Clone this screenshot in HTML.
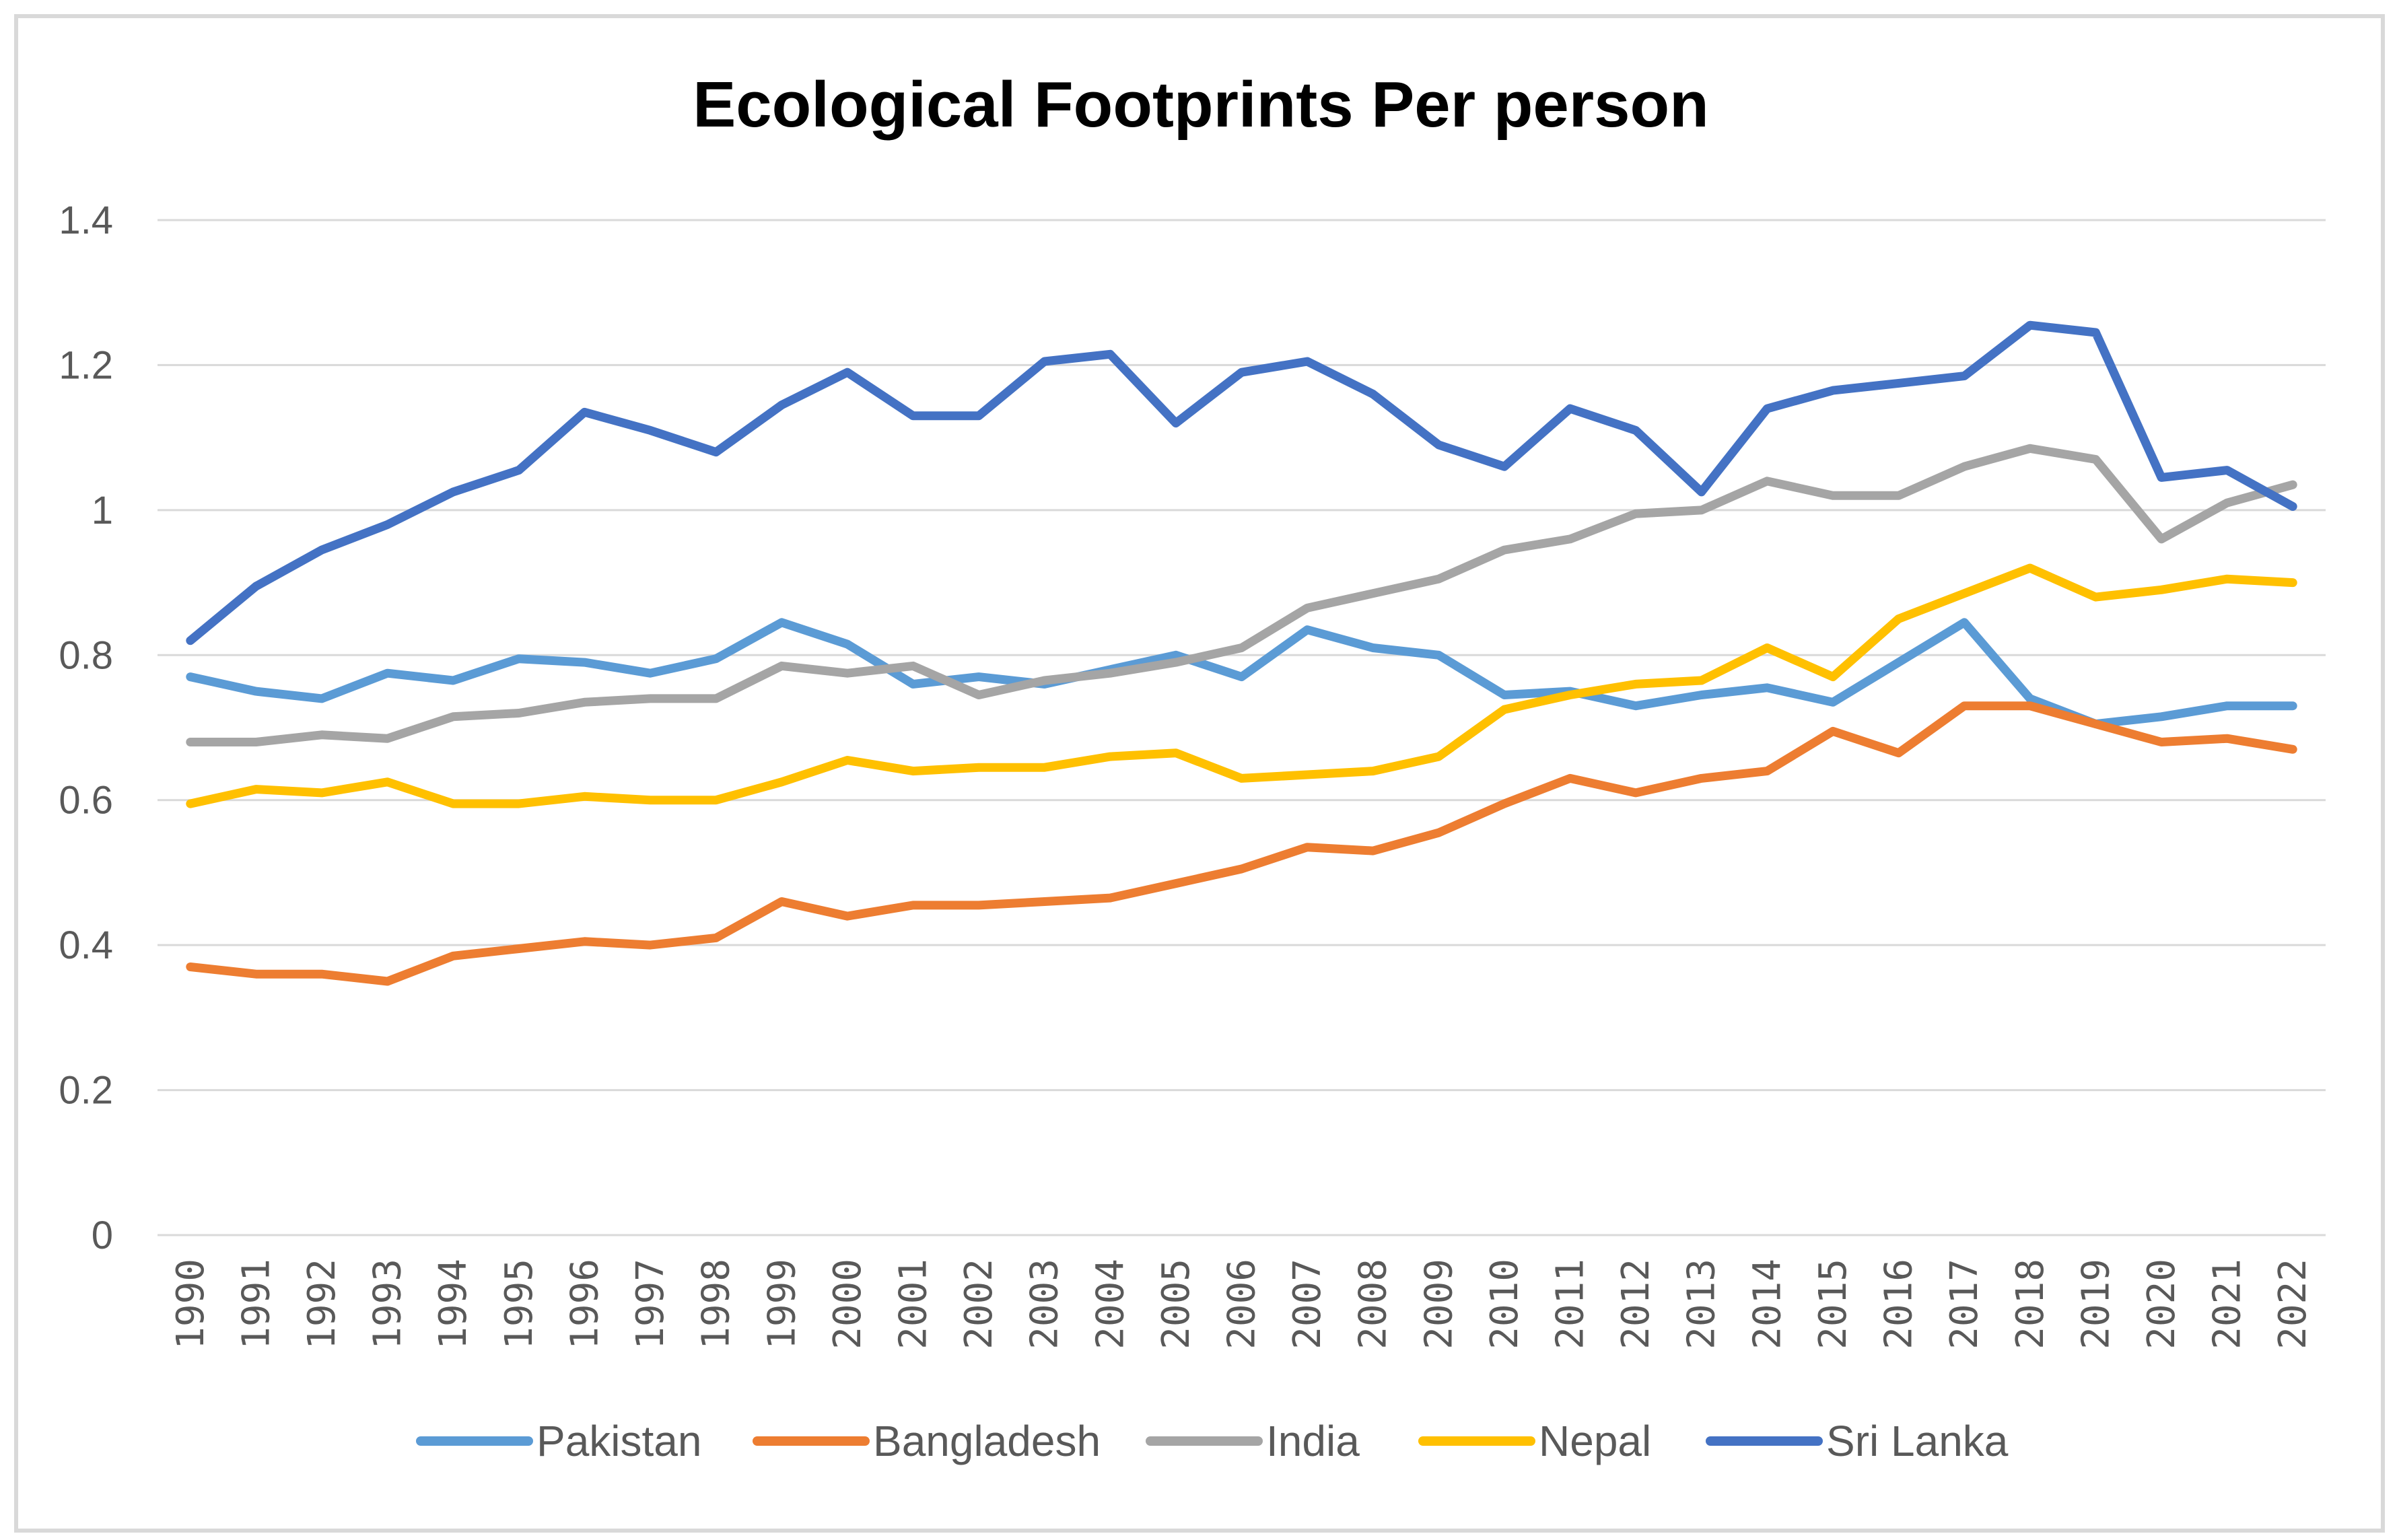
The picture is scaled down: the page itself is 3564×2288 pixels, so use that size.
<!DOCTYPE html>
<html><head><meta charset="utf-8"><style>
html,body{margin:0;padding:0;background:#fff;}
svg{display:block;font-family:"Liberation Sans Narrow","Liberation Sans",sans-serif;}
</style></head><body>
<svg id="chart" width="3564" height="2288" viewBox="0 0 3564 2288">
<rect x="24" y="24" width="3516" height="2250" fill="#fff" stroke="#d9d9d9" stroke-width="6"/>
<text x="1784" y="188" text-anchor="middle" font-size="96" font-weight="bold" fill="#000">Ecological Footprints Per person</text>
<g id="grid"></g><g id="ylabels"></g><g id="xlabels"></g><g id="lines"></g><g id="legend"></g>
</svg>
<script>
const years = [1990,1991,1992,1993,1994,1995,1996,1997,1998,1999,2000,2001,2002,2003,2004,2005,2006,2007,2008,2009,2010,2011,2012,2013,2014,2015,2016,2017,2018,2019,2020,2021,2022];
const yTicks = [0,0.2,0.4,0.6,0.8,1,1.2,1.4];
const yTickLabels = ["0","0.2","0.4","0.6","0.8","1","1.2","1.4"];
const seriesNames = ["Pakistan","Bangladesh","India","Nepal","Sri Lanka"];
const pakistan = [.77,.75,.74,.775,.765,.795,.79,.775,.795,.845,.815,.76,.77,.76,.78,.8,.77,.835,.81,.8,.745,.75,.73,.745,.755,.735,.79,.845,.74,.705,.715,.73,.73];
const bangladesh = [.37,.36,.36,.35,.385,.395,.405,.4,.41,.46,.44,.455,.455,.46,.465,.485,.505,.535,.53,.555,.595,.63,.61,.63,.64,.695,.665,.73,.73,.705,.68,.685,.67];
const india = [.68,.68,.69,.685,.715,.72,.735,.74,.74,.785,.775,.785,.745,.765,.775,.79,.81,.865,.885,.905,.945,.96,.995,1.0,1.04,1.02,1.02,1.06,1.085,1.07,.96,1.01,1.035];
const nepal = [.595,.615,.61,.625,.595,.595,.605,.6,.6,.625,.655,.64,.645,.645,.66,.665,.63,.635,.64,.66,.725,.745,.76,.765,.81,.77,.85,.885,.92,.88,.89,.905,.9];
const sriLanka = [.82,.895,.945,.98,1.025,1.055,1.135,1.11,1.08,1.145,1.19,1.13,1.13,1.205,1.215,1.12,1.19,1.205,1.16,1.09,1.06,1.14,1.11,1.025,1.14,1.165,1.175,1.185,1.255,1.245,1.045,1.055,1.005];

const NS="http://www.w3.org/2000/svg";
const L=234,R=3455,T=327,B=1835,yMax=1.4;
const step=(R-L)/years.length;
function xPos(i){return L+step*(i+0.5);}
function yPos(v){return B-(v/yMax)*(B-T);}
function mk(tag,attrs,parent){const e=document.createElementNS(NS,tag);for(const k in attrs)e.setAttribute(k,attrs[k]);parent.appendChild(e);return e;}
const grid=document.getElementById('grid'),yl=document.getElementById('ylabels'),xl=document.getElementById('xlabels'),lg=document.getElementById('lines'),leg=document.getElementById('legend');
yTicks.forEach((v,i)=>{
  const g=mk('line',{x1:L,x2:R,y1:yPos(v),y2:yPos(v),stroke:'#d9d9d9','stroke-width':3},grid);
  
  
  const t=mk('text',{x:168,y:yPos(v)+20,'text-anchor':'end','font-size':58,fill:'#595959'},yl);
  t.textContent=yTickLabels[i];
  
  
});
years.forEach((yr,i)=>{
  const x=xPos(i)+19,y=1870;
  const t=mk('text',{x:x,y:y,'text-anchor':'end','font-size':56,fill:'#595959',transform:`rotate(-90 ${x} ${y})`,'font-family':'"DejaVu Sans Mono","Liberation Mono",monospace'},xl);
  t.textContent=yr;
  
  
});
const data=[pakistan,bangladesh,india,nepal,sriLanka];
const colors=['#5B9BD5','#ED7D31','#A5A5A5','#FFC000','#4472C4'];
data.forEach((arr,s)=>{
  const d=arr.map((v,i)=>(i?'L':'M')+xPos(i).toFixed(1)+' '+yPos(v).toFixed(1)).join(' ');
  const p=mk('path',{d:d,fill:'none',stroke:colors[s],'stroke-width':13,'stroke-linejoin':'round','stroke-linecap':'round'},lg);
  
  
});
const legX=[625,1125,1709,2114,2541];
seriesNames.forEach((n,s)=>{
  const x=legX[s];
  const l=mk('line',{x1:x,x2:x+160,y1:2141,y2:2141,stroke:colors[s],'stroke-width':14,'stroke-linecap':'round'},leg);
  
  
  const t=mk('text',{x:x+172,y:2163,'font-size':64,fill:'#595959'},leg);
  t.textContent=n;
  
  
});
</script>
</body></html>
